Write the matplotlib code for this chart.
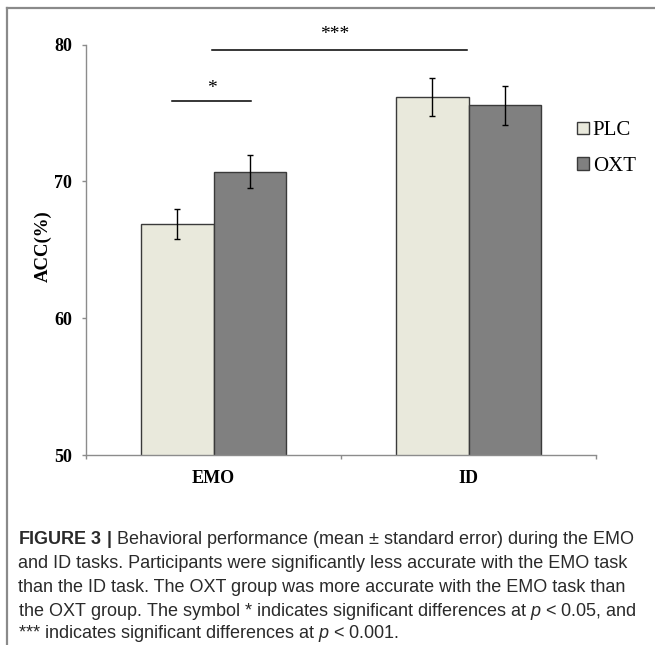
import numpy as np
import matplotlib
matplotlib.use('Agg')
import matplotlib.pyplot as plt
from matplotlib.lines import Line2D

plt.rcParams['mathtext.fontset'] = 'custom'
plt.rcParams['mathtext.rm'] = 'Liberation Sans'
plt.rcParams['mathtext.it'] = 'Liberation Sans:italic'
plt.rcParams['mathtext.bf'] = 'Liberation Sans:bold'

# data
tasks = ['EMO', 'ID']
groups = ['PLC', 'OXT']
plc_mean = [66.9, 76.15]
plc_se = [1.1, 1.4]
oxt_mean = [70.7, 75.55]
oxt_se = [1.2, 1.45]
yticks = [50, 60, 70, 80]

W, H = 655, 645
fig = plt.figure(figsize=(W / 100, H / 100), dpi=100)

# axes box in pixels: x 86..596, y 44.5..455
ax = fig.add_axes([86 / W, 1 - 455 / H, 510 / W, 410.5 / H])

x = np.arange(len(tasks))
bw = 0.286
ax.bar(x - bw / 2, plc_mean, bw, yerr=plc_se, color='#e9e9dc', edgecolor='#3a3a3a',
       linewidth=1, capsize=2.5, error_kw=dict(elinewidth=1, capthick=1, ecolor='black'),
       label=groups[0], zorder=2)
ax.bar(x + bw / 2, oxt_mean, bw, yerr=oxt_se, color='#808080', edgecolor='#3a3a3a',
       linewidth=1, capsize=2.5, error_kw=dict(elinewidth=1, capthick=1, ecolor='black'),
       label=groups[1], zorder=2)

ax.set_xlim(-0.5, 1.5)
ax.set_ylim(50, 80)
ax.set_yticks(yticks)

# category boundary ticks, labels in the middle
ax.set_xticks([-0.5, 0.5, 1.5])
ax.set_xticklabels([])
ax.set_xticks(x, minor=True)
ax.set_xticklabels(tasks, minor=True)
ax.tick_params(axis='x', which='minor', length=0, pad=11)
ax.tick_params(axis='both', which='major', direction='out', length=3, color='#8c8c8c', width=1)
ax.tick_params(axis='y', pad=7)

for lab in ax.get_xticklabels(minor=True) + ax.get_yticklabels():
    lab.set_family('Liberation Serif')
    lab.set_fontweight('bold')
    lab.set_fontsize(13)

for s in ['top', 'right']:
    ax.spines[s].set_visible(False)
for s in ['left', 'bottom']:
    ax.spines[s].set_color('#8c8c8c')
    ax.spines[s].set_linewidth(1)

fig.text(43 / W, 1 - 246 / H, 'ACC(%)', rotation=90, ha='center', va='center',
         family='Liberation Serif', fontweight='bold', fontsize=13.5)

# significance marks
ax.plot([-0.163, 0.147], [75.88, 75.88], color='black', lw=1.1, clip_on=False)
ax.text(-0.008, 76.8, '*', ha='center', va='center', family='Liberation Serif', fontsize=14)
ax.plot([-0.006, 0.994], [79.6, 79.6], color='black', lw=1.1, clip_on=False)
ax.text(0.474, 80.7, '***', ha='center', va='center', family='Liberation Serif',
        fontsize=14, clip_on=False)

leg = ax.legend(loc='upper left', bbox_to_anchor=(0.963, 0.813), frameon=False,
                prop={'family': 'Liberation Serif', 'size': 15}, handlelength=0.55,
                handleheight=0.55, handletextpad=0.2, labelspacing=0.8,
                borderpad=0, borderaxespad=0)

# frame around the figure panel
fig.add_artist(Line2D([7 / W, 1], [1 - 8 / H, 1 - 8 / H], color='#8a8a8a', lw=1.6))
fig.add_artist(Line2D([7 / W, 7 / W], [0, 1 - 8 / H], color='#8a8a8a', lw=1.6))

caption = [
    r'$\bf{FIGURE\ 3\ |}$ Behavioral performance (mean $\pm$ standard error) during the EMO',
    'and ID tasks. Participants were significantly less accurate with the EMO task',
    'than the ID task. The OXT group was more accurate with the EMO task than',
    r'the OXT group. The symbol * indicates significant differences at $p$ < 0.05, and',
    r'*** indicates significant differences at $p$ < 0.001.',
]
cap_y = [540, 564, 588, 611, 634]
for line, yy in zip(caption, cap_y):
    fig.text(18 / W, 1 - yy / H, line, ha='left', va='center',
             family='Liberation Sans', fontsize=13, color='#2a2a2a')

fig.savefig('out.png', dpi=100)
